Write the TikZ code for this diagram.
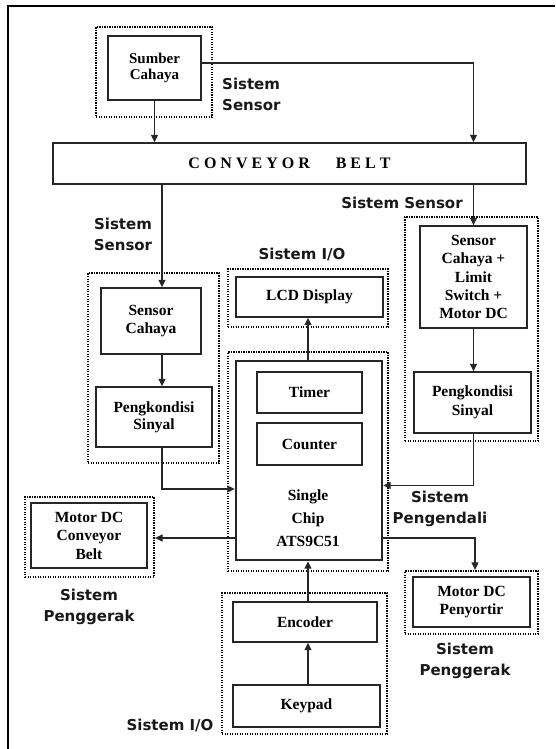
\documentclass[tikz,border=0pt]{standalone}
\usepackage{fontspec}
\setmainfont{Liberation Serif}
\newfontfamily\labfont{DejaVu Sans}
\usetikzlibrary{arrows.meta}
\newcommand\bxfont{\fontsize{15.5}{18.5}\selectfont\bfseries}
\newcommand\lbfont{\labfont\fontsize{15}{21}\selectfont\bfseries}
\newcommand\convfont{\fontsize{16}{18}\selectfont\bfseries}
\newcommand\ls{\hspace{4pt}}
\tikzset{
  box/.style={draw=black!85, line width=1.4pt, inner sep=0pt, align=center, font=\bxfont},
  chipbox/.style={box, line width=2.4pt},
  grp/.style={draw=black, line width=2.1pt, dash pattern=on 1.4pt off 1.1pt, inner sep=0pt},
  arr/.style={draw=black!85, line width=1.4pt, -{Triangle[length=7.5pt,width=7pt]}},
  lab/.style={font=\lbfont, align=center, text=black!90, inner sep=0pt},
  frame/.style={draw=black, line width=2pt},
}
\begin{document}
\begin{tikzpicture}[x=1pt,y=-1pt]
\useasboundingbox (0,0) rectangle (555,749);
% frame (top and left only)
\draw[frame] (8,749) -- (8,6) -- (555,6);

% dotted groups
\node[grp, minimum width=116pt, minimum height=90pt] (sumberd) at (154,72) {};
\node[grp, minimum width=131pt, minimum height=190pt] (grpL) at (153.5,368) {};
\node[grp, minimum width=160pt, minimum height=58pt] (lcdd) at (308,298) {};
\node[grp, minimum width=160pt, minimum height=219pt] (chipd) at (308,461.5) {};
\node[grp, minimum width=133pt, minimum height=224pt] (grpR) at (471.5,329) {};
\node[grp, minimum width=129pt, minimum height=80pt] (motorLd) at (89.5,537) {};
\node[grp, minimum width=133pt, minimum height=63pt] (penyd) at (471.5,602.5) {};
\node[grp, minimum width=165pt, minimum height=141pt] (grpB) at (304.5,663.5) {};

% boxes
\node[box, minimum width=93pt, minimum height=64pt, font=\fontsize{15}{16}\selectfont\bfseries] (sumber) at (154.5,68) {Sumber\\Cahaya};
\node[box, minimum width=473pt, minimum height=41pt, font=\convfont] (conv) at (289.5,163.5)
  {C\ls O\ls N\ls V\ls E\ls Y\ls O\ls R\hspace{26pt}B\ls E\ls L\ls T};
\node[box, minimum width=100pt, minimum height=66pt] (senL) at (151,321) {Sensor\\Cahaya};
\node[box, minimum width=116pt, minimum height=60pt, font=\fontsize{15.5}{17}\selectfont\bfseries] (pengL) at (154,417) {Pengkondisi\\Sinyal};
\node[box, minimum width=147pt, minimum height=40pt] (lcd) at (309.5,297) {LCD Display};
\node[chipbox, minimum width=146pt, minimum height=199pt] (chip) at (309,460.5) {};
\node[box, minimum width=105pt, minimum height=41pt] (timer) at (309.5,392.5) {Timer};
\node[box, minimum width=105pt, minimum height=42pt] (counter) at (309.5,444) {Counter};
\node[align=center, font=\fontsize{15.5}{23}\selectfont\bfseries, inner sep=0pt] (chiptext) at (308,518) {Single\\Chip\\ATS9C51};
\node[box, minimum width=107pt, minimum height=102pt, font=\fontsize{15.5}{18.3}\selectfont\bfseries] (senR) at (473.5,277) {Sensor\\Cahaya +\\Limit\\Switch +\\Motor DC};
\node[box, minimum width=117pt, minimum height=61pt] (pengR) at (472.5,402.5) {Pengkondisi\\Sinyal};
\node[box, minimum width=116pt, minimum height=65pt] (motorL) at (89,535.5) {Motor DC\\Conveyor\\Belt};
\node[box, minimum width=117pt, minimum height=50pt] (peny) at (471.5,602) {Motor DC\\Penyortir};
\node[box, minimum width=144pt, minimum height=40pt] (enc) at (305,622) {Encoder};
\node[box, minimum width=147pt, minimum height=42pt] (key) at (306.5,706) {Keypad};

% helper coordinates
\coordinate (colL) at (162,0);
\coordinate (colB) at (308,0);
\coordinate (rowA) at (0,538);

% connectors
\draw[arr] (sumber.south) -- (sumber.south |- conv.north);
\draw[arr] ([yshift=5pt]sumber.east) -| (senR.north |- conv.north);
\draw[arr] (colL |- conv.south) -- (colL |- senL.north);
\draw[arr] (colL |- senL.south) -- (colL |- pengL.north);
\draw[arr] (colL |- pengL.south) |- ([yshift=-28.5pt]chip.west);
\draw[arr] (senR.north |- conv.south) -- (senR.north);
\draw[arr] (senR.south) -- (senR.south |- pengR.north);
\draw[arr] (senR.south |- pengR.south) |- ([yshift=-25pt]chip.east);
\draw[arr] (colB |- chip.north) -- (colB |- lcd.south);
\draw[arr] (chip.west |- rowA) -- (motorLd.east |- rowA);
\draw[arr] (chip.east |- rowA) -| ([xshift=3.5pt]penyd.north);
\draw[arr] (colB |- enc.north) -- (colB |- chip.south);
\draw[arr] (colB |- key.north) -- (colB |- enc.south);

% labels
\node[lab, anchor=west, align=left] (labA) at (222,94) {Sistem\\Sensor};
\node[lab] (labB) at (123,234) {Sistem\\Sensor};
\node[lab] (labC) at (402,203) {Sistem Sensor};
\node[lab] (labD) at (302,254) {Sistem I/O};
\node[lab] (labE) at (440,509) {Sistem\\Pengendali};
\node[lab] (labF) at (89,607) {Sistem\\Penggerak};
\node[lab] (labG) at (465,661) {Sistem\\Penggerak};
\node[lab] (labH) at (170,725) {Sistem I/O};
\end{tikzpicture}
\end{document}
